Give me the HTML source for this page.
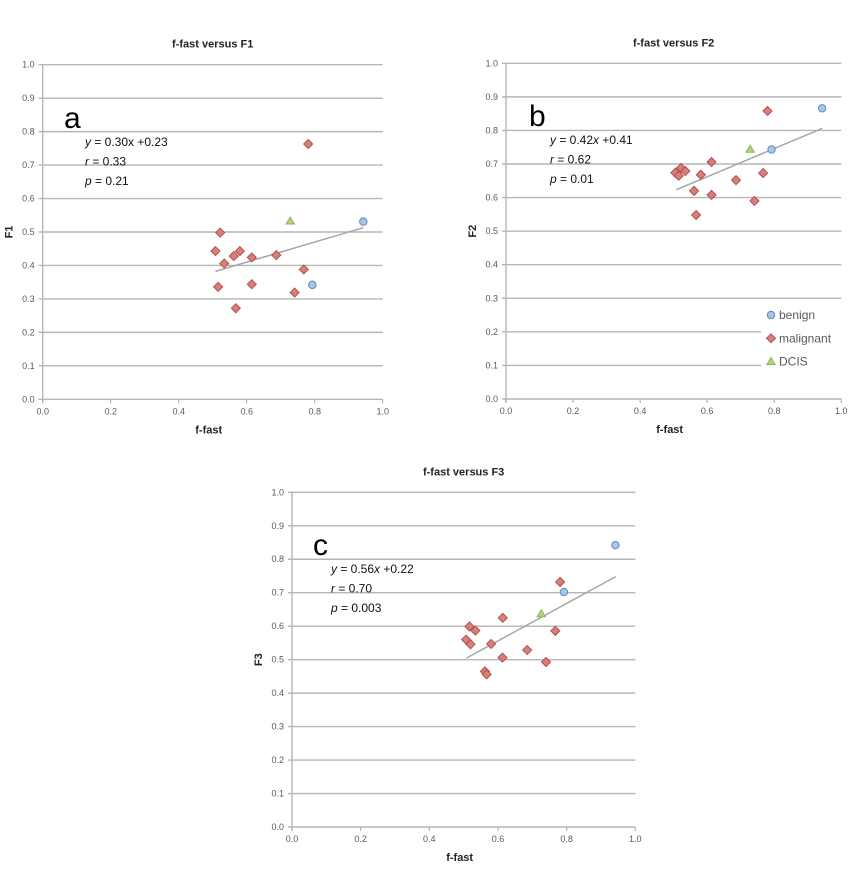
<!DOCTYPE html>
<html><head><meta charset="utf-8"><style>
body{margin:0;background:#fff;}
svg{display:block;font-family:"Liberation Sans",sans-serif;}
</style></head><body>
<svg id="svg" width="855" height="875" viewBox="0 0 855 875"></svg>
<script>
const yTicks=[0,0.1,0.2,0.3,0.4,0.5,0.6,0.7,0.8,0.9,1.0];
const xTicks=[0,0.2,0.4,0.6,0.8,1.0];
const aMalX=[0.522,0.508,0.534,0.562,0.580,0.615,0.687,0.768,0.741,0.615,0.516,0.568,0.781];
const aMalY=[0.498,0.443,0.406,0.428,0.443,0.424,0.431,0.388,0.319,0.344,0.336,0.272,0.763];
const aBenX=[0.793,0.943];const aBenY=[0.342,0.531];
const aDcisX=[0.728];const aDcisY=[0.533];
const aFit=[0.30,0.23];
const bMalX=[0.505,0.515,0.522,0.535,0.561,0.567,0.581,0.613,0.613,0.686,0.741,0.767,0.780];
const bMalY=[0.674,0.665,0.688,0.679,0.620,0.548,0.668,0.706,0.608,0.652,0.590,0.673,0.858];
const bBenX=[0.792,0.943];const bBenY=[0.743,0.866];
const bDcisX=[0.728];const bDcisY=[0.744];
const bFit=[0.42,0.41];
const cMalX=[0.507,0.517,0.520,0.534,0.580,0.614,0.613,0.562,0.567,0.685,0.740,0.767,0.781];
const cMalY=[0.560,0.599,0.546,0.587,0.547,0.625,0.506,0.465,0.456,0.529,0.493,0.586,0.732];
const cBenX=[0.792,0.942];const cBenY=[0.702,0.842];
const cDcisX=[0.726];const cDcisY=[0.637];
const cFit=[0.56,0.22];
const fitRange=[0.508,0.943];

const svg=document.getElementById('svg');
const NS='http://www.w3.org/2000/svg';
function mk(tag,attrs,parent,txt){const e=document.createElementNS(NS,tag);for(const k in attrs)e.setAttribute(k,attrs[k]);if(txt!==undefined)e.textContent=txt;parent.appendChild(e);return e;}

function chart(o){
  const g=mk('g',{},svg);
  
  
  const sx=v=>o.x0+(o.x1-o.x0)*v, sy=v=>o.y0+(o.y1-o.y0)*v;
  yTicks.forEach(t=>{
    const short=o.legend&&(t===0.1||t===0.2);
    const l=mk('line',{x1:o.x0-4,x2:short?o.legendCut:o.x1,y1:sy(t),y2:sy(t),stroke:'#b5b5b5','stroke-width':1.4},g);
    
    
    const tx=mk('text',{x:o.x0-8,y:sy(t)+3,'text-anchor':'end','font-size':9,fill:'#595959'},g,t.toFixed(1));
    
    
  });
  const ax=mk('line',{x1:o.x0,x2:o.x0,y1:o.y0+4,y2:o.y1,stroke:'#b5b5b5','stroke-width':1.4},g);
  
  
  xTicks.forEach(t=>{
    mk('line',{x1:sx(t),x2:sx(t),y1:o.y0,y2:o.y0+4,stroke:'#b5b5b5','stroke-width':1.2},g);
    const tx=mk('text',{x:sx(t),y:o.y0+15,'text-anchor':'middle','font-size':9,fill:'#595959'},g,t.toFixed(1));
    
    
  });
  const ti=mk('text',{x:(o.x0+o.x1)/2,y:o.y1-17,'text-anchor':'middle','font-size':11,'font-weight':'bold',fill:'#222'},g,o.title);
  
  
  const xt=mk('text',{x:(o.x0+o.x1)/2-4,y:o.y0+34,'text-anchor':'middle','font-size':11,'font-weight':'bold',fill:'#222'},g,'f-fast');
  
  
  const yy=(o.y0+o.y1)/2;
  const yt=mk('text',{x:o.x0-30,y:yy,'text-anchor':'middle','font-size':11,'font-weight':'bold',fill:'#222',transform:`rotate(-90 ${o.x0-30} ${yy})`},g,o.ylab);
  
  
  // fit line
  const fl=mk('line',{x1:sx(fitRange[0]),y1:sy(o.fit[0]*fitRange[0]+o.fit[1]),x2:sx(fitRange[1]),y2:sy(o.fit[0]*fitRange[1]+o.fit[1]),stroke:'#a6a6a6','stroke-width':1.5},g);
  
  
  o.malX.forEach((x,i)=>{
    const cx=sx(x),cy=sy(o.malY[i]);
    const p=mk('polygon',{points:`${cx},${cy-4.5} ${cx+4.5},${cy} ${cx},${cy+4.5} ${cx-4.5},${cy}`,fill:'#d67f7c',stroke:'#b5504c','stroke-width':1},g);
    
    
  });
  o.benX.forEach((x,i)=>{
    const c=mk('circle',{cx:sx(x),cy:sy(o.benY[i]),r:3.7,fill:'#a9c5e8',stroke:'#5b87c2','stroke-width':1},g);
    
    
  });
  o.dcX.forEach((x,i)=>{
    const cx=sx(x),cy=sy(o.dcY[i]);
    const p=mk('polygon',{points:`${cx},${cy-4} ${cx+4.2},${cy+3} ${cx-4.2},${cy+3}`,fill:'#b5d07f',stroke:'#92b557','stroke-width':1},g);
    
    
  });
  const lt=mk('text',{x:o.lx,y:o.ly,'font-size':30,fill:'#000'},g,o.letter);
  
  
  o.eq.forEach((s,i)=>{
    const t=mk('text',{x:o.ex,y:o.ey+i*19.5,'font-size':12,fill:'#111'},g);
    t.innerHTML=s;
    
    
  });
  if(o.legend){
    const items=[['benign','c'],['malignant','d'],['DCIS','t']];
    items.forEach((it,i)=>{
      const y=315+i*23.3,x=771;
      if(it[1]==='c')mk('circle',{cx:x,cy:y,r:3.7,fill:'#a9c5e8',stroke:'#5b87c2'},g);
      if(it[1]==='d')mk('polygon',{points:`${x},${y-4.5} ${x+4.5},${y} ${x},${y+4.5} ${x-4.5},${y}`,fill:'#d67f7c',stroke:'#b5504c'},g);
      if(it[1]==='t')mk('polygon',{points:`${x},${y-4} ${x+4.2},${y+3} ${x-4.2},${y+3}`,fill:'#b5d07f',stroke:'#92b557'},g);
      const t=mk('text',{x:x+8,y:y+4,'font-size':12,fill:'#595959'},g,it[0]);
      
      
    });
  }
}
chart({id:'chart-f1',x0:42.7,x1:382.7,y0:399.3,y1:64.7,title:'f-fast versus F1',ylab:'F1',fit:aFit,malX:aMalX,malY:aMalY,benX:aBenX,benY:aBenY,dcX:aDcisX,dcY:aDcisY,letter:'a',lx:64,ly:128,ex:85,ey:146,
  eq:['<tspan font-style="italic">y</tspan> = 0.30x +0.23','<tspan font-style="italic">r</tspan> = 0.33','<tspan font-style="italic">p</tspan> = 0.21']});
chart({id:'chart-f2',x0:506,x1:841.3,y0:399,y1:63.3,title:'f-fast versus F2',ylab:'F2',fit:bFit,malX:bMalX,malY:bMalY,benX:bBenX,benY:bBenY,dcX:bDcisX,dcY:bDcisY,letter:'b',lx:529,ly:126,ex:550,ey:144,legend:true,legendCut:761,
  eq:['<tspan font-style="italic">y</tspan> = 0.42<tspan font-style="italic">x</tspan> +0.41','<tspan font-style="italic">r</tspan> = 0.62','<tspan font-style="italic">p</tspan> = 0.01']});
chart({id:'chart-f3',x0:292,x1:635.3,y0:827,y1:492.3,title:'f-fast versus F3',ylab:'F3',fit:cFit,malX:cMalX,malY:cMalY,benX:cBenX,benY:cBenY,dcX:cDcisX,dcY:cDcisY,letter:'c',lx:313,ly:555,ex:331,ey:573,
  eq:['<tspan font-style="italic">y</tspan> = 0.56<tspan font-style="italic">x</tspan> +0.22','<tspan font-style="italic">r</tspan> = 0.70','<tspan font-style="italic">p</tspan> = 0.003']});
</script>
</body></html>
